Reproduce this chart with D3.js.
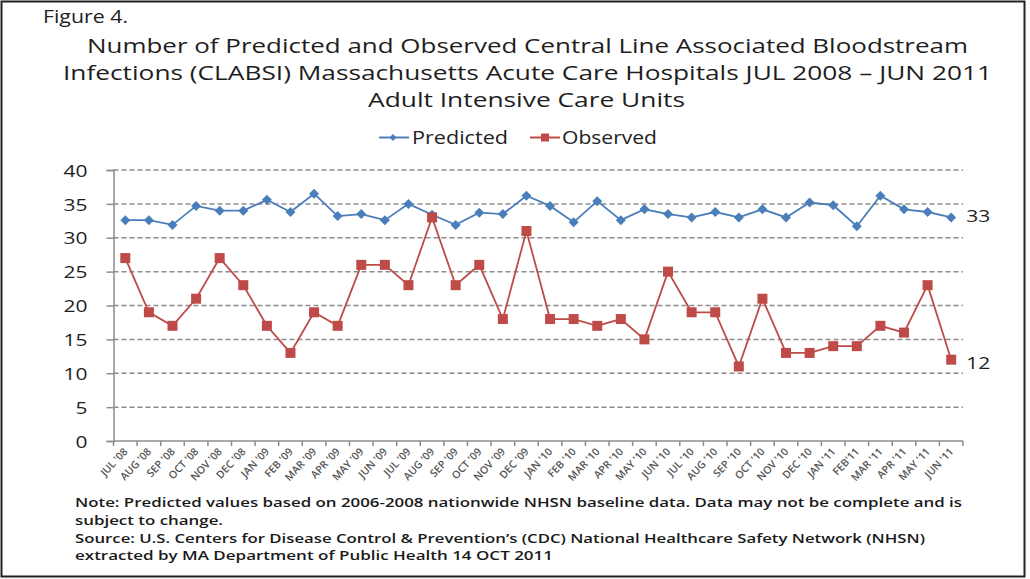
<!DOCTYPE html>
<html>
<head>
  <meta charset="UTF-8">
  <title>CLABSI Predicted vs Observed</title>
  <script src="https://d3js.org/d3.v7.min.js"></script>
  <style>
    body { margin: 0; background: #fff; }
    text { font-family: "Open Sans", "DejaVu Sans", sans-serif; }
  </style>
</head>
<body>
  <svg width="1030" height="579"></svg>

  <script>
    // Data
    const months = ["JUL '08", "AUG '08", "SEP '08", "OCT '08", "NOV '08", "DEC '08",
      "JAN '09", "FEB '09", "MAR '09", "APR '09", "MAY '09", "JUN '09",
      "JUL '09", "AUG '09", "SEP '09", "OCT '09", "NOV '09", "DEC '09",
      "JAN '10", "FEB '10", "MAR '10", "APR '10", "MAY '10", "JUN '10",
      "JUL '10", "AUG '10", "SEP '10", "OCT '10", "NOV '10", "DEC '10",
      "JAN '11", "FEB'11", "MAR '11", "APR '11", "MAY '11", "JUN '11"];
    const predicted = [32.6, 32.6, 31.9, 34.7, 34.0, 34.0, 35.6, 33.8, 36.5, 33.2, 33.5, 32.6,
      35.0, 33.4, 31.9, 33.7, 33.5, 36.2, 34.7, 32.3, 35.4, 32.6, 34.2, 33.5,
      33.0, 33.8, 33.0, 34.2, 33.0, 35.2, 34.8, 31.7, 36.2, 34.2, 33.8, 33.0];
    const observed = [27, 19, 17, 21, 27, 23, 17, 13, 19, 17, 26, 26,
      23, 33, 23, 26, 18, 31, 18, 18, 17, 18, 15, 25,
      19, 19, 11, 21, 13, 13, 14, 14, 17, 16, 23, 12];
    const yTicks = [0, 5, 10, 15, 20, 25, 30, 35, 40];
    const endLabels = ["33", "12"];

    const blue = "#4a7ebb", red = "#be4b48", grid = "#8c8c8c";

    const svg = d3.select("svg");

    // Frame
    svg.append("rect")
      .attr("x", 1.5).attr("y", 1.5)
      .attr("width", 1023).attr("height", 575)
      .attr("fill", "none").attr("stroke", "#222").attr("stroke-width", 2);

    // Scales
    const x = d3.scaleBand().domain(months).range([113.5, 963]).padding(0);
    const y = d3.scaleLinear().domain([0, 40]).range([441, 170]);
    const cx = d => x(d) + x.bandwidth() / 2;

    // Figure label and title
    svg.append("text")
      .attr("x", 43).attr("y", 23)
      .attr("font-size", 18).attr("fill", "#222")
      .attr("textLength", 85).attr("lengthAdjust", "spacingAndGlyphs")
      .text("Figure 4.");

    const titleLines = [
      { t: "Number of Predicted and Observed Central Line Associated Bloodstream", x0: 87, x1: 968 },
      { t: "Infections (CLABSI) Massachusetts Acute Care Hospitals JUL 2008 \u2013 JUN 2011", x0: 63, x1: 992 },
      { t: "Adult Intensive Care Units", x0: 368, x1: 685 }
    ];
    titleLines.forEach((l, i) => {
      svg.append("text")
        .attr("x", l.x0).attr("y", 53 + i * 27)
        .attr("font-size", 20).attr("fill", "#1e1e1e")
        .attr("textLength", l.x1 - l.x0).attr("lengthAdjust", "spacingAndGlyphs")
        .text(l.t);
    });

    // Legend
    const legend = svg.append("g");
    const diamond = (px, py, r) => `M${px},${py - r}L${px + r},${py}L${px},${py + r}L${px - r},${py}Z`;
    const square = (px, py, r) => `M${px - r},${py - r}h${2 * r}v${2 * r}h${-2 * r}Z`;

    legend.append("line").attr("x1", 379).attr("x2", 409).attr("y1", 137.5).attr("y2", 137.5)
      .attr("stroke", blue).attr("stroke-width", 2);
    legend.append("path").attr("d", diamond(393, 137.5, 3.5)).attr("fill", blue);
    legend.append("text").attr("x", 412).attr("y", 144)
      .attr("font-size", 18).attr("fill", "#222")
      .attr("textLength", 96).attr("lengthAdjust", "spacingAndGlyphs").text("Predicted");

    legend.append("line").attr("x1", 530).attr("x2", 560).attr("y1", 137.5).attr("y2", 137.5)
      .attr("stroke", red).attr("stroke-width", 2);
    legend.append("path").attr("d", square(545, 137.5, 4)).attr("fill", red);
    legend.append("text").attr("x", 562).attr("y", 144)
      .attr("font-size", 18).attr("fill", "#222")
      .attr("textLength", 95).attr("lengthAdjust", "spacingAndGlyphs").text("Observed");

    // Gridlines
    svg.append("g")
      .selectAll("line")
      .data(yTicks.filter(d => d > 0))
      .join("line")
      .attr("x1", 113.5).attr("x2", 963)
      .attr("y1", d => y(d)).attr("y2", d => y(d))
      .attr("stroke", grid).attr("stroke-width", 1.5)
      .attr("stroke-dasharray", "5,3");

    // Y axis
    const yAxis = svg.append("g")
      .attr("transform", "translate(113.5,0)")
      .call(d3.axisLeft(y).tickValues(yTicks).tickSize(7).tickPadding(19));
    yAxis.select(".domain").attr("stroke", grid).attr("stroke-width", 1.5);
    yAxis.selectAll(".tick line").attr("stroke", grid).attr("stroke-width", 1.5);
    yAxis.selectAll(".tick text")
      .attr("font-size", 17).attr("fill", "#1e1e1e")
      .attr("font-family", "'Open Sans', sans-serif")
      .attr("textLength", d => String(d).length * 12)
      .attr("lengthAdjust", "spacingAndGlyphs")
      .attr("dy", "0.36em");

    // X axis (ticks between categories)
    const xAxis = svg.append("g");
    xAxis.append("line")
      .attr("x1", 113.5).attr("x2", 963)
      .attr("y1", y(0)).attr("y2", y(0))
      .attr("stroke", grid).attr("stroke-width", 1.5);
    xAxis.selectAll(".bt")
      .data(d3.range(months.length + 1))
      .join("line")
      .attr("class", "bt")
      .attr("x1", i => x.range()[0] + i * x.step())
      .attr("x2", i => x.range()[0] + i * x.step())
      .attr("y1", y(0)).attr("y2", y(0) + 5)
      .attr("stroke", grid).attr("stroke-width", 1.5);
    xAxis.selectAll(".xl")
      .data(months)
      .join("text")
      .attr("class", "xl")
      .attr("transform", d => `translate(${cx(d) + 3},${y(0) + 11}) rotate(-47)`)
      .attr("text-anchor", "end")
      .attr("font-size", 10.5).attr("font-weight", 600).attr("fill", "#555")
      .text(d => d);

    // Lines
    const line = d3.line().x((d, i) => cx(months[i])).y(d => y(d));

    svg.append("path").datum(predicted)
      .attr("fill", "none").attr("stroke", blue).attr("stroke-width", 1.8)
      .attr("d", line);
    svg.append("path").datum(observed)
      .attr("fill", "none").attr("stroke", red).attr("stroke-width", 1.8)
      .attr("d", line);

    svg.append("g").selectAll("path")
      .data(predicted)
      .join("path")
      .attr("d", (d, i) => diamond(cx(months[i]), y(d), 5))
      .attr("fill", blue);
    svg.append("g").selectAll("path")
      .data(observed)
      .join("path")
      .attr("d", (d, i) => square(cx(months[i]), y(d), 5))
      .attr("fill", red);

    // End labels
    const last = months.length - 1;
    [predicted[last], observed[last]].forEach((v, i) => {
      svg.append("text")
        .attr("x", cx(months[last]) + 15).attr("y", y(v) + (i === 0 ? 5 : 9))
        .attr("font-size", 17).attr("fill", "#1e1e1e")
        .attr("textLength", 24).attr("lengthAdjust", "spacingAndGlyphs")
        .text(endLabels[i]);
    });

    // Notes
    const notes = [
      { t: "Note: Predicted values based on 2006-2008 nationwide NHSN baseline data. Data may not be complete and is", w: 887 },
      { t: "subject to change.", w: 148 },
      { t: "Source: U.S. Centers for Disease Control & Prevention\u2019s (CDC) National Healthcare Safety Network (NHSN)", w: 850 },
      { t: "extracted by MA Department of Public Health 14 OCT 2011", w: 478 }
    ];
    notes.forEach((n, i) => {
      svg.append("text")
        .attr("x", 75).attr("y", 507 + i * 17.8)
        .attr("font-size", 13).attr("font-weight", 600).attr("fill", "#1a1a1a")
        .attr("textLength", n.w).attr("lengthAdjust", "spacingAndGlyphs")
        .text(n.t);
    });
  </script>
</body>
</html>
